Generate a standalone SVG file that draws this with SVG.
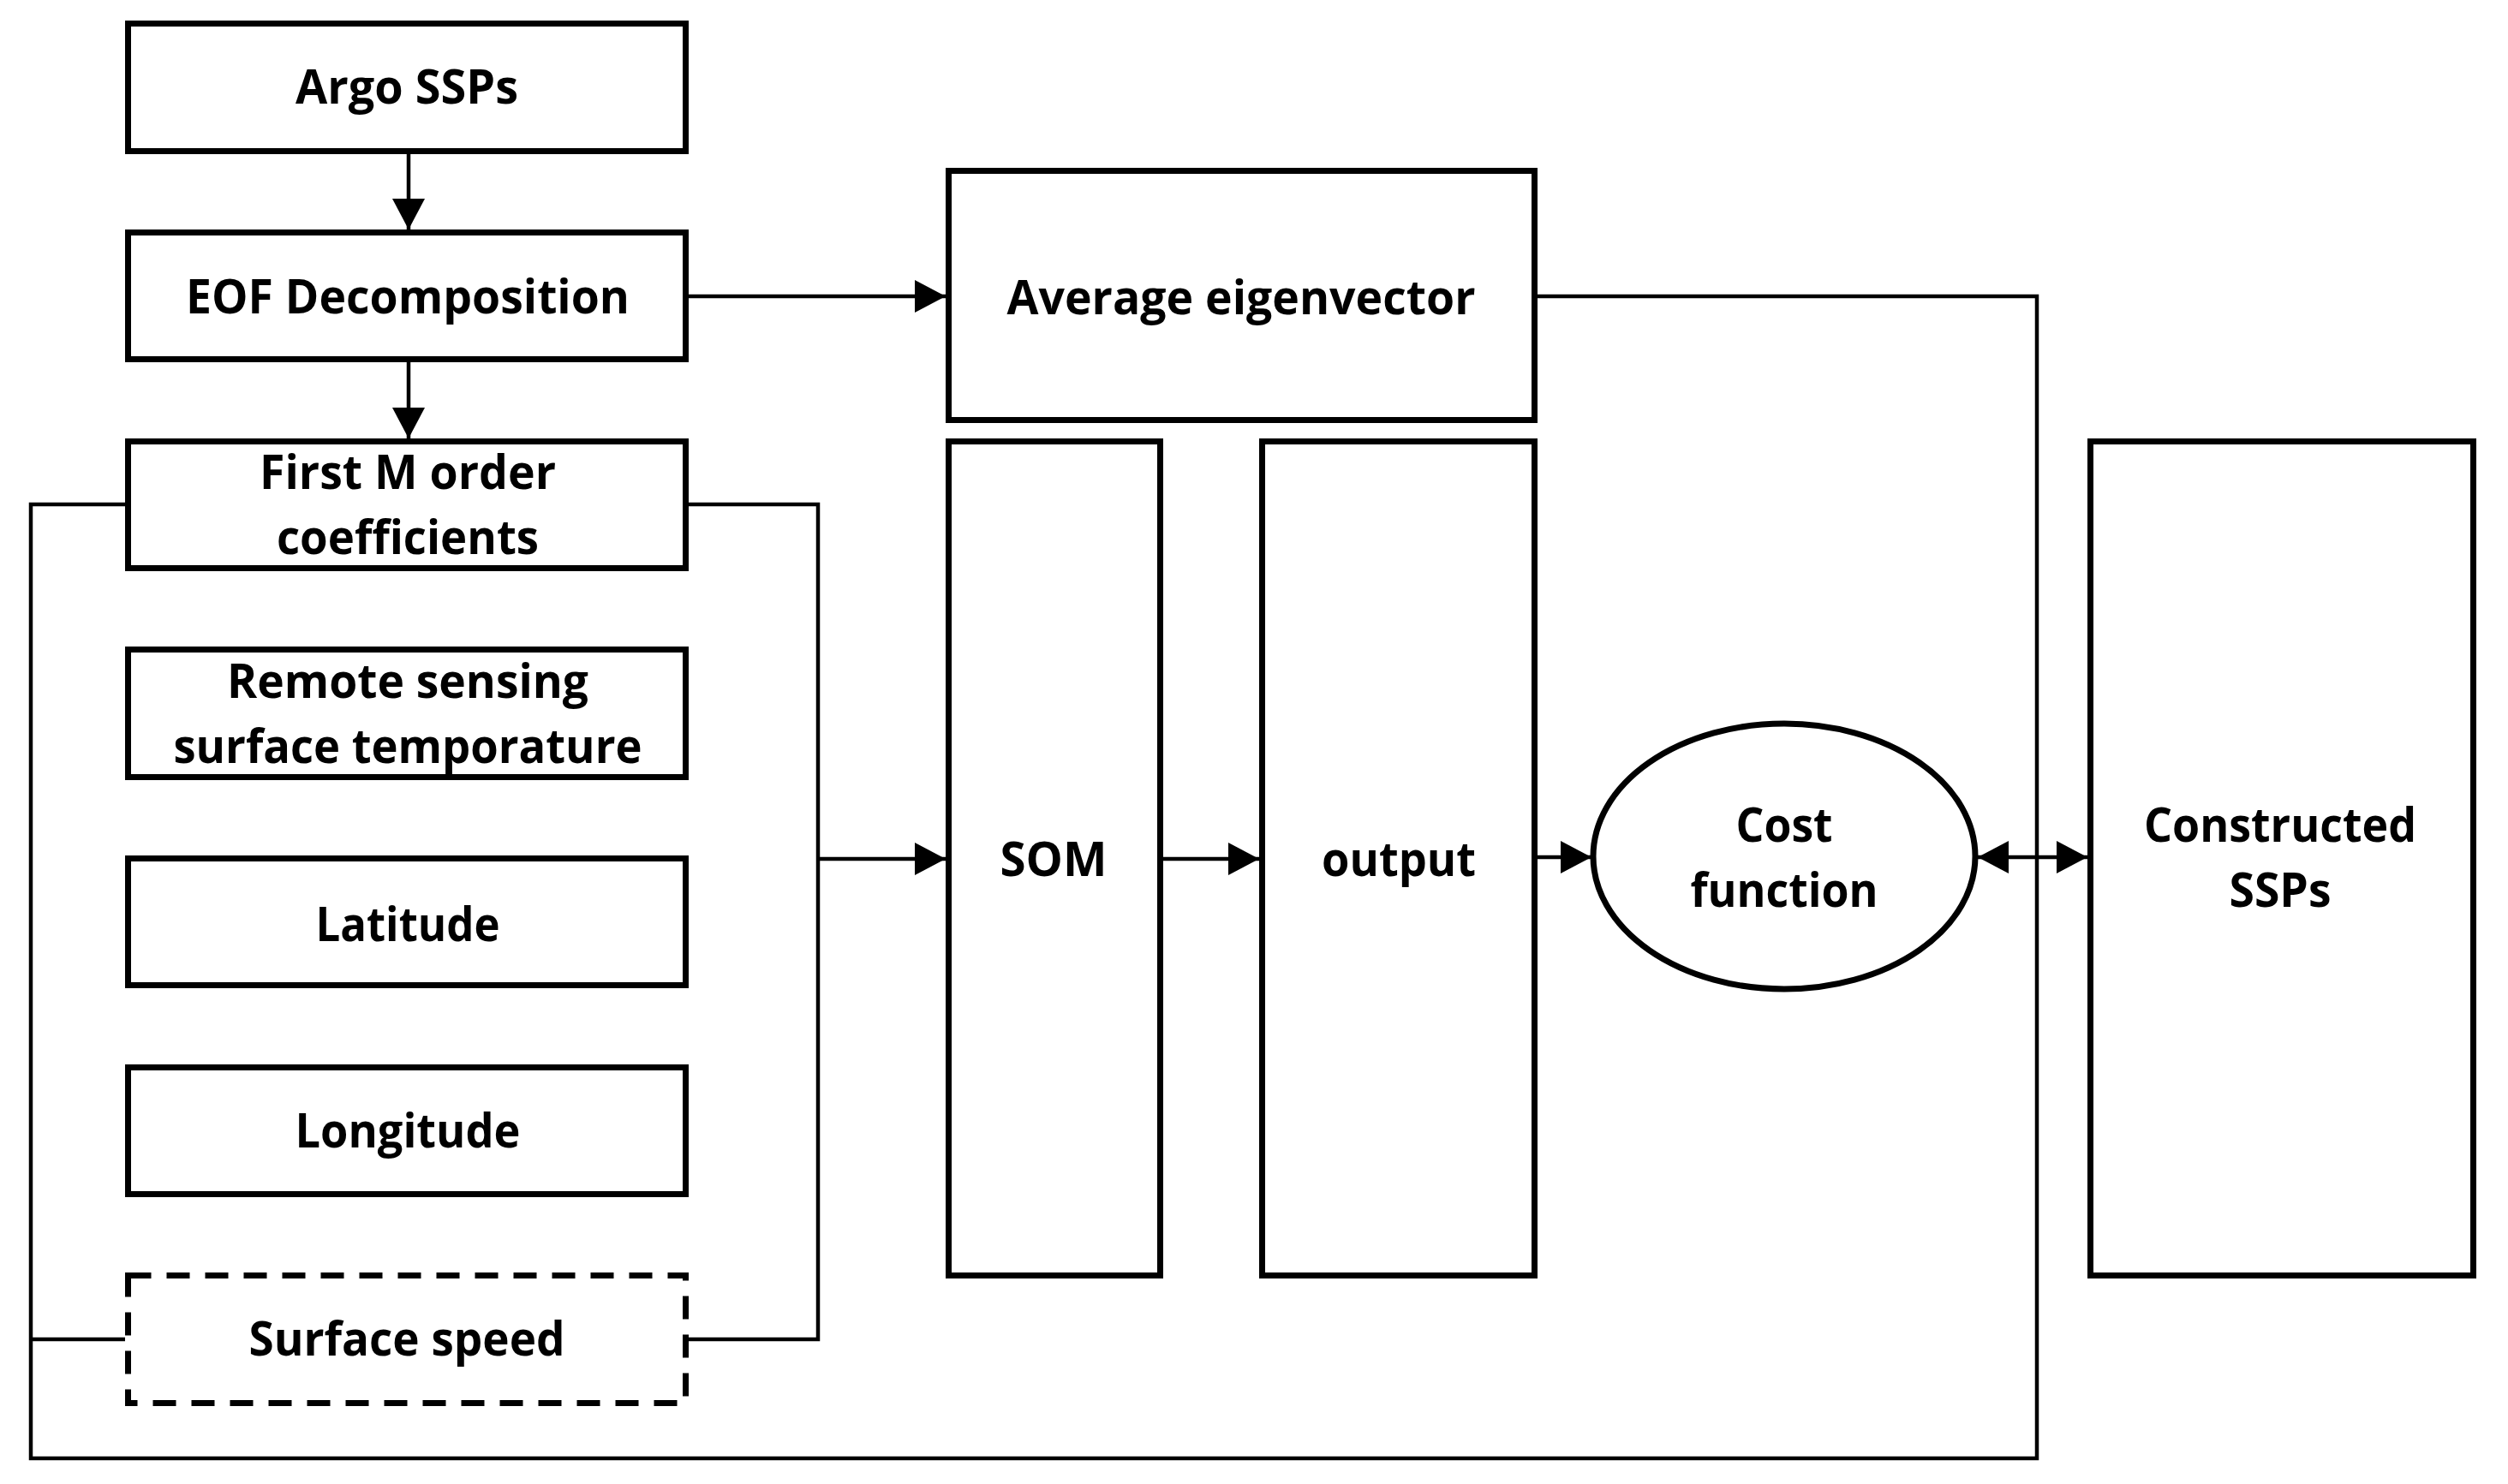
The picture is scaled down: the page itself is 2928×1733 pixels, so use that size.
<svg xmlns="http://www.w3.org/2000/svg" width="2928" height="1733" viewBox="0 0 2928 1733">
<style>
.box{fill:#fff;stroke:#000;stroke-width:7}
.dash{fill:#fff;stroke:#000;stroke-width:7;stroke-dasharray:27 18}
.con{fill:none;stroke:#000;stroke-width:4.5}
.t{font-family:"Open Sans","Liberation Sans",sans-serif;font-weight:bold;font-size:55px;fill:#000;text-anchor:middle}
</style>
<defs>
<marker id="ah" markerUnits="userSpaceOnUse" markerWidth="37" markerHeight="38" refX="36" refY="19" orient="auto">
<path d="M0,0 L36,19 L0,38 Z" fill="#000"/>
</marker>
<marker id="ahs" markerUnits="userSpaceOnUse" markerWidth="37" markerHeight="38" refX="36" refY="19" orient="auto-start-reverse">
<path d="M0,0 L36,19 L0,38 Z" fill="#000"/>
</marker>
</defs>
<rect width="2928" height="1733" fill="#fff"/>
<g id="connectors">
<line class="con" x1="477" y1="180" x2="477" y2="268" marker-end="url(#ah)"/>
<line class="con" x1="477" y1="423" x2="477" y2="512" marker-end="url(#ah)"/>
<line class="con" x1="804" y1="346" x2="1104" y2="346" marker-end="url(#ah)"/>
<path class="con" d="M1795,346 H2378 V1703 H36 V589 H146"/>
<path class="con" d="M36,1564 H146"/>
<path class="con" d="M804,589 H955 V1564 H804"/>
<line class="con" x1="955" y1="1003" x2="1104" y2="1003" marker-end="url(#ah)"/>
<line class="con" x1="1358" y1="1003" x2="1470" y2="1003" marker-end="url(#ah)"/>
<line class="con" x1="1795" y1="1001" x2="1858" y2="1001" marker-end="url(#ah)"/>
<line class="con" x1="2309" y1="1001" x2="2437" y2="1001" marker-start="url(#ahs)" marker-end="url(#ah)"/>
</g>
<g id="argo"><rect class="box" x="149.5" y="27.5" width="651" height="149"/><text class="t" x="475" y="121" textLength="260" lengthAdjust="spacingAndGlyphs">Argo SSPs</text></g>
<g id="eof"><rect class="box" x="149.5" y="271.5" width="651" height="148"/><text class="t" x="476" y="366" textLength="518" lengthAdjust="spacingAndGlyphs">EOF Decomposition</text></g>
<g id="firstm"><rect class="box" x="149.5" y="515.5" width="651" height="148"/><text class="t" x="476" y="571" textLength="346" lengthAdjust="spacingAndGlyphs">First M order</text><text class="t" x="476" y="647" textLength="306" lengthAdjust="spacingAndGlyphs">coefficients</text></g>
<g id="remote"><rect class="box" x="149.5" y="758.5" width="651" height="149"/><text class="t" x="476" y="815" textLength="422" lengthAdjust="spacingAndGlyphs">Remote sensing</text><text class="t" x="476" y="891" textLength="547" lengthAdjust="spacingAndGlyphs">surface temporature</text></g>
<g id="latitude"><rect class="box" x="149.5" y="1002.5" width="651" height="148"/><text class="t" x="476" y="1099" textLength="215" lengthAdjust="spacingAndGlyphs">Latitude</text></g>
<g id="longitude"><rect class="box" x="149.5" y="1246.5" width="651" height="148"/><text class="t" x="476" y="1340" textLength="263" lengthAdjust="spacingAndGlyphs">Longitude</text></g>
<g id="surfacespeed"><rect class="dash" x="149.5" y="1489.5" width="651" height="149"/><text class="t" x="475" y="1583" textLength="369" lengthAdjust="spacingAndGlyphs">Surface speed</text></g>
<g id="avg"><rect class="box" x="1107.5" y="199.5" width="684" height="291"/><text class="t" x="1449" y="367" textLength="547" lengthAdjust="spacingAndGlyphs">Average eigenvector</text></g>
<g id="som"><rect class="box" x="1107.5" y="515.5" width="247" height="974"/><text class="t" x="1230" y="1023" textLength="125" lengthAdjust="spacingAndGlyphs">SOM</text></g>
<g id="output"><rect class="box" x="1473.5" y="515.5" width="318" height="974"/><text class="t" x="1633" y="1023" textLength="180" lengthAdjust="spacingAndGlyphs">output</text></g>
<g id="cost"><ellipse class="box" cx="2083" cy="1000" rx="223" ry="155"/><text class="t" x="2083" y="983" textLength="113" lengthAdjust="spacingAndGlyphs">Cost</text><text class="t" x="2083" y="1059" textLength="219" lengthAdjust="spacingAndGlyphs">function</text></g>
<g id="constructed"><rect class="box" x="2440.5" y="515.5" width="447" height="974"/><text class="t" x="2662" y="983" textLength="318" lengthAdjust="spacingAndGlyphs">Constructed</text><text class="t" x="2662" y="1059" textLength="119" lengthAdjust="spacingAndGlyphs">SSPs</text></g>
</svg>
